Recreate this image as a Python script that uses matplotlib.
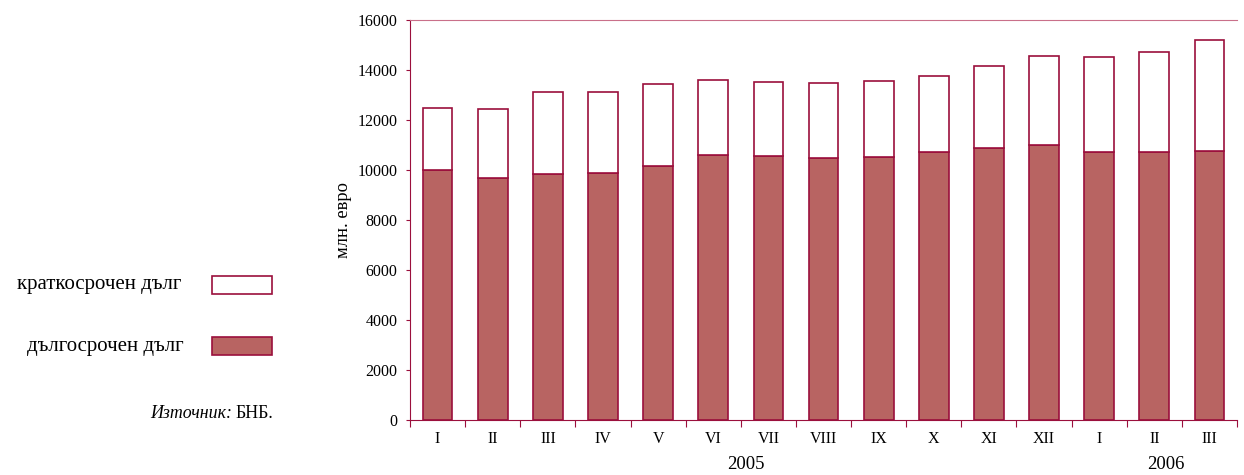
import matplotlib.pyplot as plt
from matplotlib.patches import Rectangle

months = ["I", "II", "III", "IV", "V", "VI", "VII", "VIII", "IX", "X", "XI", "XII", "I", "II", "III"]
long_term = [10000, 9690, 9820, 9880, 10170, 10600, 10560, 10460, 10520, 10700, 10880, 11000, 10700, 10730, 10770]
total = [12460, 12440, 13130, 13100, 13440, 13610, 13520, 13470, 13570, 13750, 14160, 14560, 14500, 14700, 15200]
short_term = [t - l for t, l in zip(total, long_term)]
years = ["2005", "2006"]
year_pos = [5.6, 13.2]

edge = "#9b0f3c"
fill = "#b86462"
plt.rcParams["font.family"] = ["Liberation Serif", "DejaVu Serif"]

fig = plt.figure(figsize=(12.44, 4.75), dpi=100)
ax = fig.add_axes([0.3296, 0.1158, 0.6648, 0.8421])

x = list(range(len(months)))
ax.bar(x, long_term, width=0.54, color=fill, edgecolor=edge, linewidth=1.2)
ax.bar(x, short_term, bottom=long_term, width=0.54, color="white", edgecolor=edge, linewidth=1.2)

ax.set_xlim(-0.5, len(months) - 0.5)
ax.set_ylim(0, 16000)
ax.set_yticks(range(0, 16001, 2000))
ax.tick_params(axis="y", labelsize=11.5, length=3, color=edge, pad=6)
ax.set_xticks([i - 0.5 for i in range(len(months) + 1)])
ax.set_xticklabels([])
ax.tick_params(axis="x", length=5, color=edge)
for i, m in enumerate(months):
    ax.text(i, -450, m, ha="center", va="top", fontsize=11.5)
for y, p in zip(years, year_pos):
    ax.text(p, -1450, y, ha="center", va="top", fontsize=13.5)

ax.spines["right"].set_visible(False)
ax.spines["left"].set_color(edge)
ax.spines["bottom"].set_color(edge)
ax.spines["top"].set_color("#c9708a")
ax.set_ylabel("млн. евро", fontsize=13.3, labelpad=4)

# legend drawn by hand on the left side
fig.text(181 / 1244, 1 - 285 / 475, "краткосрочен дълг", ha="right", va="center", fontsize=15)
fig.text(184 / 1244, 1 - 346 / 475, "дългосрочен дълг", ha="right", va="center", fontsize=15)
fig.patches.append(Rectangle((212 / 1244, 1 - 294 / 475), 60 / 1244, 18 / 475,
                             transform=fig.transFigure, facecolor="white", edgecolor=edge, linewidth=1.2))
fig.patches.append(Rectangle((212 / 1244, 1 - 355 / 475), 60 / 1244, 18 / 475,
                             transform=fig.transFigure, facecolor=fill, edgecolor=edge, linewidth=1.2))
fig.text(232 / 1244, 1 - 413 / 475, "Източник:", ha="right", va="center", fontsize=12.9, style="italic")
fig.text(235 / 1244, 1 - 413 / 475, "БНБ.", ha="left", va="center", fontsize=12.9)

fig.savefig("out.png", dpi=100)
